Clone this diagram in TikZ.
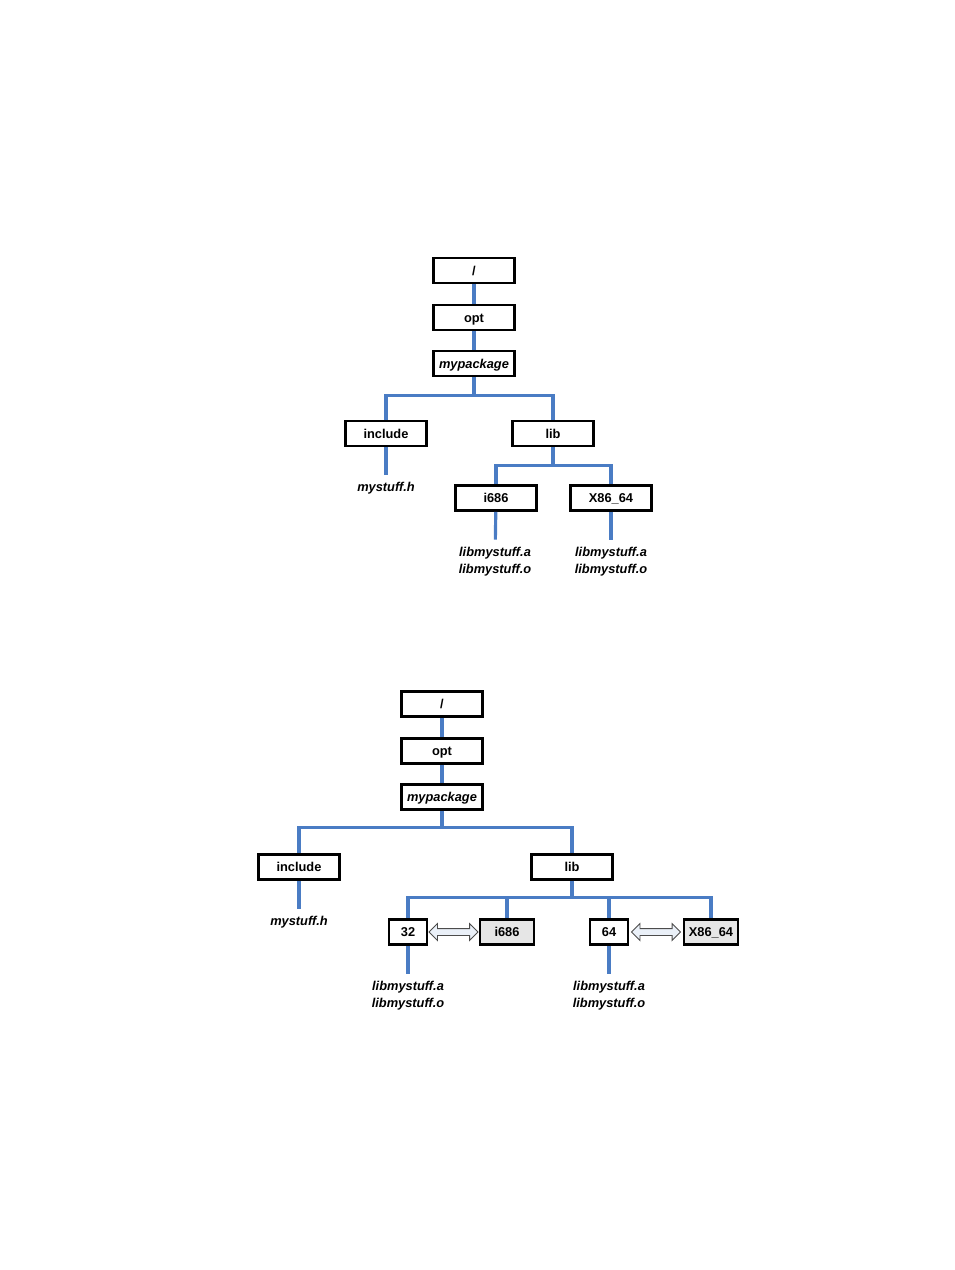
\documentclass[tikz,border=0pt]{standalone}
\usepackage{fontspec}
\setmainfont{Liberation Sans}
\usetikzlibrary{shapes.arrows}

\definecolor{linkblue}{HTML}{4A7CC4}
\definecolor{boxgray}{HTML}{E6E6E6}
\definecolor{arrowfill}{HTML}{EAF0F8}

\tikzset{
  dirbox/.style={draw, line width=1.5pt, minimum width=1.63cm, minimum height=0.5cm,
    inner sep=0pt, text height=5.3pt, text depth=0pt,
    font=\fontsize{7.3}{9}\selectfont\bfseries},
  archbox/.style={dirbox, minimum width=0.76cm},
  aliasbox/.style={dirbox, minimum width=1.08cm, fill=boxgray},
  files/.style={align=center, inner sep=0pt,
    font=\fontsize{7.3}{9.6}\selectfont\bfseries\itshape},
  link/.style={draw=linkblue, line width=1.8pt},
  leaf/.style={link, shorten >=4pt},
  swap/.style={double arrow, draw=black!70, fill=arrowfill, line width=0.5pt,
    minimum height=0.98cm, inner xsep=0pt, inner ysep=0.06cm,
    double arrow head extend=0.1cm}
}

\begin{document}
\begin{tikzpicture}[x=0.02cm, y=-0.02cm]

		\useasboundingbox (0,0) rectangle (954,1270);

		% upper tree
		\node[dirbox] (rootA) at (474,270.5) {/};
		\node[dirbox] (optA) at (474,317.5) {opt};
		\node[dirbox] (pkgA) at (474,363.5) {\itshape mypackage};
		\node[dirbox] (incA) at (386,433.5) {include};
		\node[dirbox] (libA) at (553,433.5) {lib};
		\node[dirbox] (i686A) at (496,498) {i686};
		\node[dirbox] (x64A) at (611,498) {X86\_64};

		% upper files
		\node[files] (hA) at (386,488) {mystuff.h};
		\node[files] (oA) at (495,561.5) {libmystuff.a\\libmystuff.o};
		\node[files] (oB) at (611,561.5) {libmystuff.a\\libmystuff.o};

		% upper links
		\draw[link] (rootA) -- (optA);
		\draw[link] (optA) -- (pkgA);
		\draw[link] (pkgA.south) -- ++(0,18) -| (incA.north);
		\draw[link] (pkgA.south) -- ++(0,18) -| (libA.north);
		\draw[link] (libA.south) -- ++(0,18) -| (i686A.north);
		\draw[link] (libA.south) -- ++(0,18) -| (x64A.north);
		\draw[leaf] (incA) -- (hA);
		\draw[leaf] (i686A) -- (oA);
		\draw[leaf] (x64A) -- (oB);

		% lower tree
		\node[dirbox] (rootB) at (442,704) {/};
		\node[dirbox] (optB) at (442,751) {opt};
		\node[dirbox] (pkgB) at (442,797) {\itshape mypackage};
		\node[dirbox] (incB) at (299,867) {include};
		\node[dirbox] (libB) at (572,867) {lib};
		\node[archbox] (n32) at (408,932) {32};
		\node[aliasbox] (i686B) at (507,932) {i686};
		\node[archbox] (n64) at (609,932) {64};
		\node[aliasbox] (x64B) at (711,932) {X86\_64};

		% lower files
		\node[files] (hB) at (299,922) {mystuff.h};
		\node[files] (oC) at (408,995.5) {libmystuff.a\\libmystuff.o};
		\node[files] (oD) at (609,995.5) {libmystuff.a\\libmystuff.o};

		% lower links
		\draw[link] (rootB) -- (optB);
		\draw[link] (optB) -- (pkgB);
		\draw[link] (pkgB.south) -- ++(0,17) -| (incB.north);
		\draw[link] (pkgB.south) -- ++(0,17) -| (libB.north);
		\foreach \arch in {n32, i686B, n64, x64B}
			\draw[link] (libB.south) -- ++(0,17) -| (\arch.north);
		\draw[leaf] (incB) -- (hB);
		\draw[leaf] (n32) -- (oC);
		\draw[leaf] (n64) -- (oD);

		% aliases
		\path (n32.east) -- (i686B.west) node[midway, swap] (swapA) {};
		\path (n64.east) -- (x64B.west) node[midway, swap] (swapB) {};

	\end{tikzpicture}
\end{document}
